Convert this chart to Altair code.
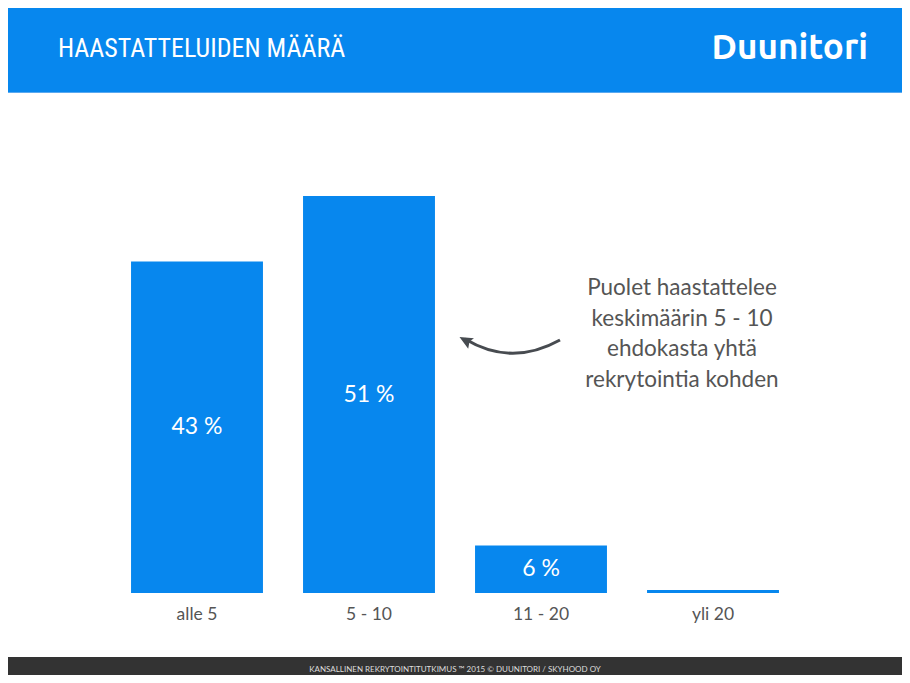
import altair as alt
import pandas as pd

# ---- data ----
categories = ["alle 5", "5 - 10", "11 - 20", "yli 20"]
values = [42.6, 51, 6.1, 0.4]
value_labels = ["43 %", "51 %", "6 %", ""]

title_text = "HAASTATTELUIDEN MÄÄRÄ"
logo_text = "Duunitori"
note_lines = ["Puolet haastattelee", "keskimäärin 5 - 10", "ehdokasta yhtä", "rekrytointia kohden"]
footer_text = "KANSALLINEN REKRYTOINTITUTKIMUS ™ 2015 © DUUNITORI / SKYHOOD OY"

BLUE = "#0787EE"
GRAY = "#555555"

df = pd.DataFrame({"cat": categories, "val": values, "lab": value_labels})

W, H = 688, 467
one = alt.Data(values=[{"a": 1}])

x_enc = alt.X(
    "cat:N",
    sort=categories,
    scale=alt.Scale(paddingInner=0.233, paddingOuter=0.1165),
    axis=alt.Axis(
        title=None, labelAngle=0, domain=False, ticks=False, grid=False,
        labelFont="Lato", labelFontSize=17.5, labelColor=GRAY, labelPadding=12,
    ),
)
y_scale = alt.Scale(domain=[0, 60])

bars = alt.Chart(df).mark_bar(color=BLUE).encode(
    x=x_enc,
    y=alt.Y("val:Q", scale=y_scale, axis=None),
)

bar_text = alt.Chart(df).transform_calculate(mid="datum.val / 2").mark_text(
    font="Lato", fontSize=23, color="white", baseline="middle"
).encode(
    x=alt.X("cat:N", sort=categories),
    y=alt.Y("mid:Q", scale=y_scale),
    text="lab:N",
)

header = alt.Chart(one).mark_rect(color=BLUE).encode(
    x=alt.value(-111), x2=alt.value(W + 111), y=alt.value(-126), y2=alt.value(-33)
)
header_line = alt.Chart(one).mark_rect(color="#5aa9f0").encode(
    x=alt.value(-111), x2=alt.value(W + 111), y=alt.value(-34), y2=alt.value(-33)
)
title = alt.Chart(one).mark_text(
    text=title_text, font="Roboto Condensed, Liberation Sans Narrow, Roboto",
    fontSize=26, color="white", align="left", baseline="middle"
).encode(x=alt.value(-53), y=alt.value(-77))
logo = alt.Chart(one).mark_text(
    text=logo_text, font="Ubuntu, Open Sans, Lato", fontWeight="bold",
    fontSize=35, color="white", align="right", baseline="middle"
).encode(x=alt.value(757), y=alt.value(-78))

footer = alt.Chart(one).mark_rect(color="#333333").encode(
    x=alt.value(-111), x2=alt.value(W + 111), y=alt.value(531), y2=alt.value(560)
)
footer_t = alt.Chart(one).mark_text(
    text=footer_text, font="Lato", fontSize=8, color="#dddddd",
    align="center", baseline="middle"
).encode(x=alt.value(344), y=alt.value(544))

note = alt.Chart(one).mark_text(
    text=note_lines, font="Lato", fontSize=22.5, color=GRAY,
    align="center", baseline="middle", lineHeight=30.7
).encode(x=alt.value(571), y=alt.value(162))

arrow_curve = alt.Chart(one).mark_point(
    shape="M 0.98 -0.1 Q 0.01 0.44 -0.92 -0.12", size=10000, filled=False,
    strokeWidth=3, color="#474b50", opacity=1
).encode(x=alt.value(400), y=alt.value(219))
arrow_head = alt.Chart(one).mark_point(
    shape="M -0.75 -0.5 L 0.7 -0.38 L 0.25 -0.05 L 0.12 0.68 Z", size=400,
    filled=True, color="#474b50", opacity=1
).encode(x=alt.value(356), y=alt.value(216))

chart = alt.layer(
    header, header_line, title, logo, footer, footer_t,
    bars, bar_text, note, arrow_curve, arrow_head
).properties(
    width=W, height=H,
    autosize=alt.AutoSizeParams(type="none"),
    padding={"left": 103, "top": 118, "right": 103, "bottom": 82},
).configure_view(stroke=None)

chart.save("out.html", embed_options={"renderer": "svg", "actions": False})
